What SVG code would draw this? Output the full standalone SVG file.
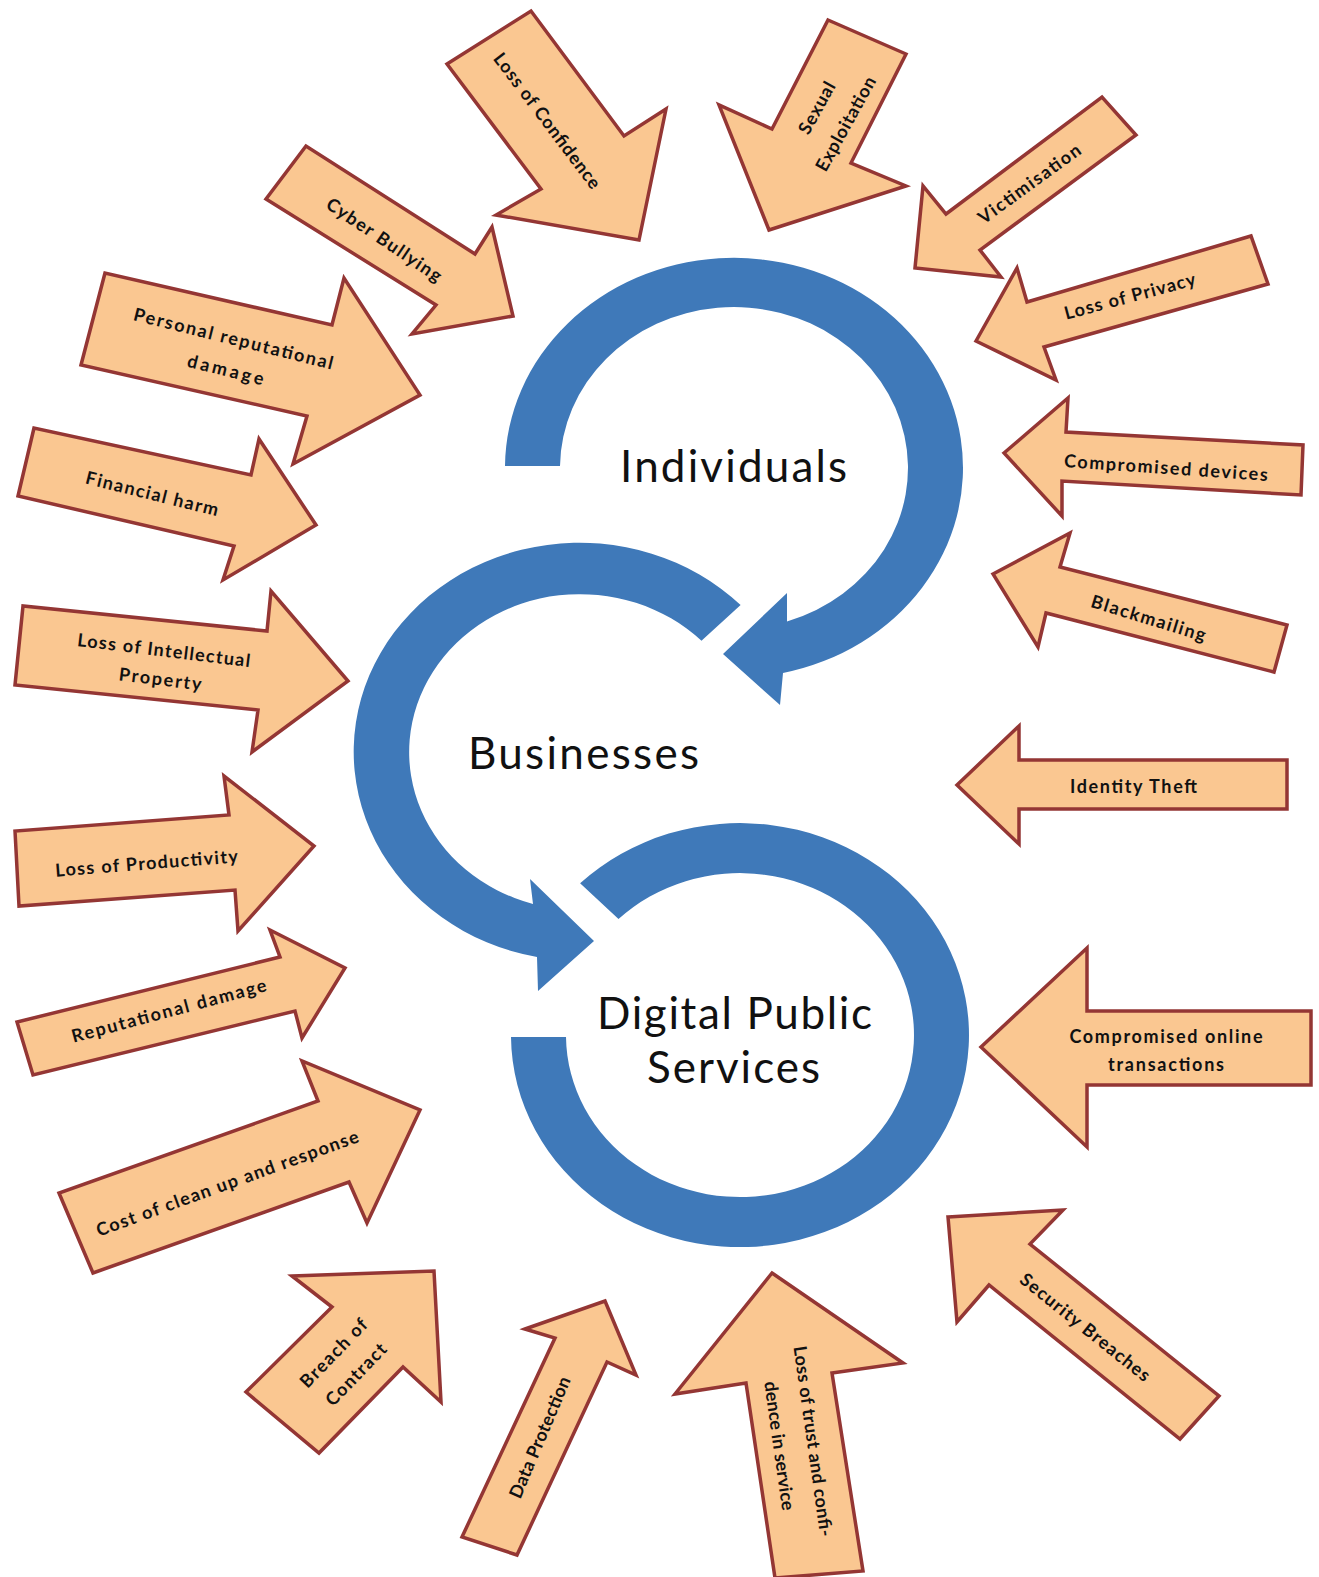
<svg xmlns="http://www.w3.org/2000/svg" width="1319" height="1577" viewBox="0 0 1319 1577">
<style>
.ar{fill:#FAC791;stroke:#943634;stroke-width:3.5;stroke-linejoin:miter}
.lb{font-family:Lato,"Liberation Sans",sans-serif;font-weight:700;font-size:18px;fill:#111;text-anchor:middle}
.ring{fill:#3F79B9}
.big{font-family:Lato,"Liberation Sans",sans-serif;font-size:44px;fill:#111;text-anchor:middle}
</style>
<rect width="1319" height="1577" fill="#fff"/>

<g id="connectors">
  <path class="ring" d="M 505,466 A 229,210 0 1 1 783,673 L 780,705 L 723,654 L 787,593 L 787,621.4 A 174,161 0 1 0 560,466 Z"/>
  <path class="ring" d="M 740.6,605 A 226,209 0 1 0 537,957 L 538,991 L 594,941 L 530,879 L 533,904 A 171,158 0 1 1 701.5,640.8 Z"/>
  <path class="ring" d="M 580.1,883.3 A 229,212 0 1 1 511,1037 L 566,1037 A 174,162 0 1 0 618.5,919.1 Z"/>
</g>

<g id="node-individuals"><text class="big" x="733.5" y="482" textLength="227">Individuals</text></g>
<g id="node-businesses"><text class="big" x="583.5" y="769" textLength="231">Businesses</text></g>
<g id="node-dps">
  <text class="big" x="734.5" y="1029" textLength="275">Digital Public</text>
  <text class="big" x="733.5" y="1083" textLength="173">Services</text>
</g>

<g id="a-loss-confidence">
  <polygon class="ar" points="447,64 531,11 624,136 666,109 639,240 496,215 541,189"/>
  <text class="lb" transform="translate(547,121) rotate(53)" y="6" textLength="165">Loss of Confidence</text>
</g>
<g id="a-cyber-bullying">
  <polygon class="ar" points="306,146 266,199 436,305 412,334 513,316 492,227 475,254"/>
  <text class="lb" transform="translate(384,240) rotate(34)" y="6" textLength="135">Cyber Bullying</text>
</g>
<g id="a-personal-rep">
  <polygon class="ar" points="105,273 81,365 307,416 293,464 420,395 344,278 332,325"/>
  <g transform="translate(229.5,354.5) rotate(14)">
    <text class="lb" y="-10" textLength="205">Personal reputational</text>
    <text class="lb" y="22" textLength="78">damage</text>
  </g>
</g>
<g id="a-financial">
  <polygon class="ar" points="34,428 18,496 234,546 223,580 316,525 259,439 251,475"/>
  <text class="lb" transform="translate(152,494) rotate(14)" y="6" textLength="136">Financial harm</text>
</g>
<g id="a-ip">
  <polygon class="ar" points="23,606 15,685 258,710 252,752 348,681 271,591 267,631"/>
  <g transform="translate(162,665) rotate(7)">
    <text class="lb" y="-8.5" textLength="174">Loss of Intellectual</text>
    <text class="lb" y="20.5" textLength="83">Property</text>
  </g>
</g>
<g id="a-productivity">
  <polygon class="ar" points="15,831 19,906 235,890 238,931 314,846 224,776 229,815"/>
  <text class="lb" transform="translate(146.5,863.5) rotate(-4.5)" y="6" textLength="183">Loss of Productivity</text>
</g>
<g id="a-rep-damage">
  <polygon class="ar" points="17,1022 33,1075 295,1011 302,1038 345,968 270,930 280,957"/>
  <text class="lb" transform="translate(169,1011) rotate(-15)" y="6" textLength="201">Reputational damage</text>
</g>
<g id="a-cost">
  <polygon class="ar" points="59,1193 93,1273 349,1182 367,1223 420,1110 302,1061 318,1101"/>
  <text class="lb" transform="translate(227.5,1183.5) rotate(-20)" y="6" textLength="278">Cost of clean up and response</text>
</g>
<g id="a-breach">
  <polygon class="ar" points="292,1276 434,1271 441,1402 403,1367 319,1453 246,1392 332,1307"/>
  <g transform="translate(345,1364) rotate(-46)">
    <text class="lb" y="-9.5" textLength="88">Breach of</text>
    <text class="lb" y="21.5" textLength="79">Contract</text>
  </g>
</g>
<g id="a-data-protection">
  <polygon class="ar" points="525,1329 605,1301 636,1375 607,1362 517,1555 462,1537 555,1338"/>
  <text class="lb" transform="translate(540,1437.5) rotate(-67)" y="6" textLength="130">Data Protection</text>
</g>
<g id="a-loss-trust">
  <polygon class="ar" points="772,1273 903,1363 832,1373 863,1571 775,1578 746,1383 675,1394"/>
  <g transform="translate(796,1443.5) rotate(82)">
    <text class="lb" y="-11" textLength="192">Loss of trust and confi-</text>
    <text class="lb" y="23" textLength="130">dence in service</text>
  </g>
</g>
<g id="a-security">
  <polygon class="ar" points="948,1217 1063,1210 1030,1244 1219,1396 1180,1439 989,1285 957,1322"/>
  <text class="lb" transform="translate(1085,1327.5) rotate(38.7)" y="6" textLength="161">Security Breaches</text>
</g>
<g id="a-online">
  <polygon class="ar" points="981,1047 1087,948 1087,1011 1311,1011 1311,1085 1087,1085 1087,1147"/>
  <text class="lb" x="1166" y="1043" textLength="193">Compromised online</text>
  <text class="lb" x="1166" y="1071" textLength="116">transactions</text>
</g>
<g id="a-identity">
  <polygon class="ar" points="957,785 1019,726 1019,760 1287,760 1287,809 1019,809 1019,844"/>
  <text class="lb" x="1133.5" y="793" textLength="127">Identity Theft</text>
</g>
<g id="a-blackmailing">
  <polygon class="ar" points="993,574 1070,533 1060,567 1287,625 1274,672 1046,613 1038,647"/>
  <text class="lb" transform="translate(1148.5,618.5) rotate(17)" y="6" textLength="119">Blackmailing</text>
</g>
<g id="a-devices">
  <polygon class="ar" points="1004,453 1068,398 1066,432 1303,445 1301,495 1062,481 1062,516"/>
  <text class="lb" transform="translate(1166,468) rotate(3.9)" y="6" textLength="204">Compromised devices</text>
</g>
<g id="a-privacy">
  <polygon class="ar" points="976,341 1017,268 1027,302 1251,236 1268,284 1044,347 1056,380"/>
  <text class="lb" transform="translate(1130,296.5) rotate(-15)" y="6" textLength="135">Loss of Privacy</text>
</g>
<g id="a-victimisation">
  <polygon class="ar" points="915,268 923,186 946,214 1102,97 1136,135 980,250 1001,277"/>
  <text class="lb" transform="translate(1029.5,184) rotate(-36)" y="6" textLength="122">Victimisation</text>
</g>
<g id="a-sexual">
  <polygon class="ar" points="828,20 906,54 851,163 906,186 769,230 719,105 772,129"/>
  <g transform="translate(831.5,116) rotate(-61)">
    <text class="lb" y="-10.5" textLength="57">Sexual</text>
    <text class="lb" y="22.5" textLength="105">Exploitation</text>
  </g>
</g>
</svg>
